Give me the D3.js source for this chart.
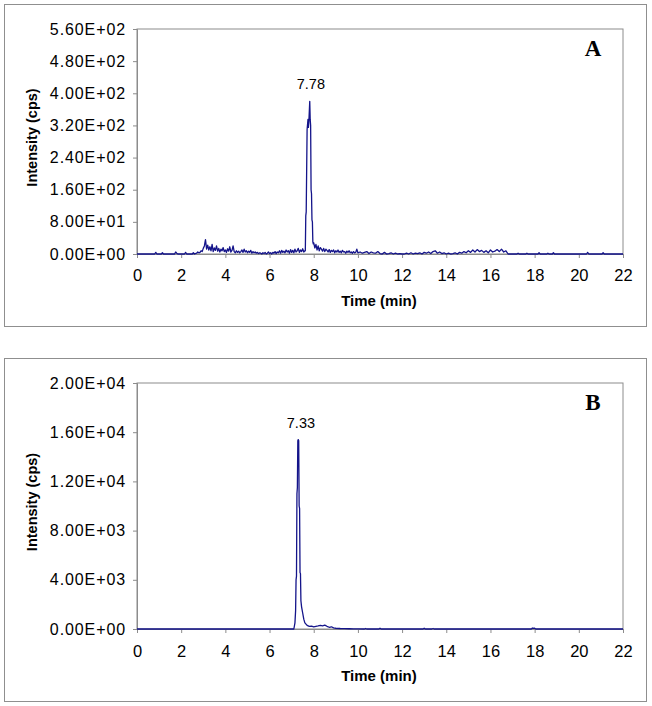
<!DOCTYPE html>
<html>
<head>
<meta charset="utf-8">
<script src="https://cdn.jsdelivr.net/npm/d3@7"></script>
<style>
  html, body { margin: 0; padding: 0; background: #fff; }
  svg { display: block; }
  .tick text { font-family: "Liberation Sans", Arial, sans-serif; }
</style>
</head>
<body>
<svg id="chart" width="652" height="706"></svg>
<script>
// ---------- DATA ----------
const xTicks = [0, 2, 4, 6, 8, 10, 12, 14, 16, 18, 20, 22];

const yTicksA = [0, 80, 160, 240, 320, 400, 480, 560];
const yTickLabelsA = ["0.00E+00", "8.00E+01", "1.60E+02", "2.40E+02", "3.20E+02", "4.00E+02", "4.80E+02", "5.60E+02"];

const yTicksB = [0, 4000, 8000, 12000, 16000, 20000];
const yTickLabelsB = ["0.00E+00", "4.00E+03", "8.00E+03", "1.20E+04", "1.60E+04", "2.00E+04"];

// Panel A chromatogram (time in min, intensity in cps)
const timeA = [
  0, 0.8, 0.85, 0.9, 1.1, 1.15, 1.2, 1.7, 1.75, 1.8, 1.85, 2.15, 2.2, 2.25, 2.5, 2.55, 2.6, 2.7, 2.75, 2.8,
  2.85, 2.9, 2.95, 3.0, 3.05, 3.1, 3.15, 3.2, 3.25, 3.3, 3.35, 3.4, 3.45, 3.5, 3.55, 3.6, 3.65, 3.7, 3.75, 3.8,
  3.85, 3.9, 3.95, 4.0, 4.05, 4.1, 4.15, 4.2, 4.25, 4.3, 4.35, 4.4, 4.45, 4.5, 4.55, 4.6, 4.65, 4.7, 4.75, 4.8,
  4.85, 4.9, 4.95, 5.0, 5.05, 5.1, 5.15, 5.2, 5.25, 5.3, 5.35, 5.4, 5.45, 5.5, 5.55, 5.6, 5.65, 5.7, 5.75, 5.8,
  5.85, 5.9, 5.95, 6.0, 6.05, 6.1, 6.15, 6.2, 6.25, 6.3, 6.35, 6.4, 6.45, 6.5, 6.55, 6.6, 6.65, 6.7, 6.75, 6.8,
  6.85, 6.9, 6.95, 7.0, 7.05, 7.1, 7.15, 7.2, 7.25, 7.3, 7.35, 7.4, 7.45, 7.5, 7.55, 7.6,
  7.62, 7.64, 7.66, 7.7, 7.74, 7.76, 7.78, 7.82, 7.84, 7.86, 7.88, 7.9, 7.92, 7.94, 7.96, 7.98, 8.0,
  8.05, 8.1, 8.15, 8.2, 8.25, 8.3, 8.35, 8.4, 8.45, 8.5, 8.55, 8.6, 8.65, 8.7, 8.75, 8.8, 8.85, 8.9, 8.95, 9.0,
  9.05, 9.1, 9.15, 9.2, 9.25, 9.3, 9.35, 9.4, 9.45, 9.5, 9.55, 9.6, 9.65, 9.7, 9.75, 9.8, 9.85, 9.9, 9.95, 10.0,
  10.1, 10.2, 10.3, 10.4, 10.5, 10.6, 10.7, 10.8, 10.9, 11.0, 11.1, 11.2, 11.3, 11.4, 11.5, 11.6, 11.7, 11.8, 11.9, 12.0,
  12.1, 12.2, 12.3, 12.4, 12.5, 12.6, 12.7, 12.8, 12.9, 13.0, 13.1, 13.2, 13.3, 13.4, 13.5, 13.6, 13.7, 13.8, 13.9, 14.0,
  14.1, 14.2, 14.3, 14.4, 14.5, 14.6, 14.7, 14.8, 14.9, 15.0, 15.1, 15.2, 15.3, 15.4, 15.5, 15.6, 15.7, 15.8, 15.9, 16.0,
  16.1, 16.2, 16.3, 16.4, 16.5, 16.6, 16.7, 16.8,
  17.2, 17.25, 17.3, 17.6, 17.65, 17.7, 18.15, 18.2, 18.25, 18.55, 18.6, 18.65, 18.8, 18.85, 18.9,
  20.35, 20.4, 20.45, 21.05, 21.1, 21.15, 22
];
const intensityA = [
  0, 0, 4, 0, 0, 3, 0, 0, 5, 2, 0, 0, 4, 0, 0, 3, 0, 2, 5, 3,
  4, 8, 6, 14, 20, 36, 12, 22, 10, 18, 8, 24, 6, 15, 9, 20, 7, 14, 5, 12,
  8, 16, 6, 10, 4, 13, 7, 18, 5, 9, 20, 6, 3, 8, 4, 7, 3, 6, 10, 4,
  12, 5, 8, 3, 7, 4, 9, 2, 6, 3, 5, 2, 4, 1, 3, 2, 0, 3, 1, 4,
  0, 2, 5, 1, 3, 0, 4, 2, 6, 1, 5, 3, 8, 2, 9, 4, 7, 3, 10, 5,
  8, 2, 11, 4, 9, 3, 12, 5, 8, 14, 4, 10, 6, 13, 5, 8,
  8, 95, 105, 310, 335, 315, 330, 380, 335, 320, 160, 150, 85, 80, 30, 25, 28,
  15, 24, 10, 20, 8, 16, 12, 7, 14, 6, 12, 9, 5, 11, 4, 9, 6, 10, 3, 8,
  5, 10, 4, 7, 3, 9, 5, 6, 2, 7, 4, 8, 3, 5, 2, 6, 3, 4, 12, 3,
  5, 2, 4, 6, 1, 5, 3, 2, 6, 1, 0, 4, 0, 1, 3, 0, 2, 0, 1, 0,
  0, 2, 0, 3, 0, 2, 1, 3, 0, 4, 2, 5, 1, 6, 8, 2, 5, 1, 3, 0,
  2, 0, 1, 3, 0, 4, 2, 6, 3, 8, 4, 10, 5, 11, 6, 9, 4, 8, 3, 10,
  5, 7, 11, 6, 12, 5, 8, 0,
  0, 2, 0, 0, 2, 0, 0, 3, 0, 0, 2, 0, 0, 3, 0,
  0, 4, 0, 0, 3, 0, 0
];

// Panel B chromatogram
const timeB = [
  0, 7.1, 7.15, 7.18, 7.2, 7.22, 7.24, 7.26, 7.28, 7.3, 7.32, 7.34, 7.36, 7.38, 7.4, 7.42, 7.45, 7.5, 7.55, 7.6,
  7.7, 7.8, 7.9, 8.0, 8.1, 8.2, 8.3, 8.4, 8.5, 8.6, 8.7, 8.8, 8.9, 9.0, 9.2, 9.4, 9.6, 9.8, 10.0,
  10.3, 10.35, 10.4, 10.95, 11.0, 11.05, 12.95, 13.0, 13.05, 13.35, 13.4, 13.45,
  17.85, 17.9, 17.95, 18.0, 18.05, 22
];
const intensityB = [
  0, 0, 500, 1500, 4000, 4300, 11000, 11500, 15300, 15400, 15300, 10000, 9800, 4600, 4500, 2300, 1800, 1300, 800, 500,
  300, 220, 240, 180, 220, 250, 300, 260, 320, 220, 140, 180, 90, 60, 40, 30, 20, 10, 5,
  0, 40, 0, 0, 70, 0, 0, 70, 0, 0, 40, 0,
  0, 80, 60, 70, 0, 0
];

const peakLabels = [
  { panel: "A", time: 7.78, text: "7.78", value: 380 },
  { panel: "B", time: 7.33, text: "7.33", value: 15400 }
];

// ---------- DRAWING ----------
const svg = d3.select("#chart");
const lineColor = "#14148a";
const gridGrey = "#8c8c8c";

function drawPanel(cfg) {
  const g = svg.append("g");
  // outer frame
  g.append("rect")
    .attr("x", cfg.box[0] + 0.5).attr("y", cfg.box[1] + 0.5)
    .attr("width", cfg.box[2]).attr("height", cfg.box[3])
    .attr("fill", "none").attr("stroke", "#8f8f8f").attr("stroke-width", 1);

  const x = d3.scaleLinear().domain([0, 22]).range([cfg.left, cfg.right]);
  const y = d3.scaleLinear().domain([0, cfg.yMax]).range([cfg.bottom, cfg.top]);

  // plot area border
  g.append("rect")
    .attr("x", cfg.left).attr("y", cfg.top)
    .attr("width", cfg.right - cfg.left).attr("height", cfg.bottom - cfg.top)
    .attr("fill", "none").attr("stroke", gridGrey).attr("stroke-width", 1);

  const xAxis = d3.axisBottom(x).tickValues(xTicks).tickSize(4).tickPadding(cfg.xPad).tickFormat(d => d);
  const gx = g.append("g").attr("transform", `translate(0,${cfg.bottom})`).call(xAxis);
  gx.select(".domain").attr("stroke", gridGrey);
  gx.selectAll(".tick line").attr("stroke", gridGrey);
  gx.selectAll(".tick text").attr("font-size", 16.5).attr("fill", "#000").attr("dy", "0.71em");

  const yAxis = d3.axisLeft(y).tickValues(cfg.yTicks).tickSize(4).tickPadding(7)
    .tickFormat((d, i) => cfg.yLabels[i]);
  const gy = g.append("g").attr("transform", `translate(${cfg.left},0)`).call(yAxis);
  gy.select(".domain").attr("stroke", gridGrey);
  gy.selectAll(".tick line").attr("stroke", gridGrey);
  gy.selectAll(".tick text").attr("font-size", 16).attr("letter-spacing", "0.9px").attr("fill", "#000");

  // data line
  const pts = cfg.times.map((t, i) => [t, cfg.values[i]]);
  g.append("path")
    .datum(pts)
    .attr("fill", "none")
    .attr("stroke", lineColor)
    .attr("stroke-width", 1.3)
    .attr("stroke-linejoin", "round")
    .attr("d", d3.line().x(d => x(d[0])).y(d => y(d[1])));

  // peak label
  peakLabels.filter(p => p.panel === cfg.name).forEach(p => {
    g.append("text")
      .attr("x", x(p.time) + 2).attr("y", y(p.value) - 12)
      .attr("text-anchor", "middle")
      .attr("font-family", "Liberation Sans, Arial, sans-serif")
      .attr("font-size", 14.5).attr("fill", "#000")
      .text(p.text);
  });

  // panel letter
  g.append("text")
    .attr("x", cfg.right - 30).attr("y", cfg.letterY)
    .attr("text-anchor", "middle")
    .attr("font-family", "Liberation Serif, 'Times New Roman', serif")
    .attr("font-weight", "bold").attr("font-size", 23).attr("fill", "#000")
    .text(cfg.name);

  // axis titles
  g.append("text")
    .attr("x", (cfg.left + cfg.right) / 2 - 1).attr("y", cfg.bottom + 52)
    .attr("text-anchor", "middle")
    .attr("font-family", "Liberation Sans, Arial, sans-serif")
    .attr("font-weight", "bold").attr("font-size", 15).attr("fill", "#000")
    .text("Time (min)");

  g.append("text")
    .attr("transform", `translate(${cfg.left - 100},${(cfg.top + cfg.bottom) / 2 - 4}) rotate(-90)`)
    .attr("text-anchor", "middle")
    .attr("font-family", "Liberation Sans, Arial, sans-serif")
    .attr("font-weight", "bold").attr("font-size", 14.5).attr("fill", "#000")
    .text("Intensity (cps)");
}

drawPanel({
  name: "A", box: [4, 4, 642, 322],
  left: 137, right: 623, top: 29, bottom: 254,
  yMax: 560, yTicks: yTicksA, yLabels: yTickLabelsA,
  times: timeA, values: intensityA, letterY: 56, xPad: 11
});

drawPanel({
  name: "B", box: [4, 358, 642, 343],
  left: 137, right: 623, top: 383, bottom: 629,
  yMax: 20000, yTicks: yTicksB, yLabels: yTickLabelsB,
  times: timeB, values: intensityB, letterY: 410, xPad: 12
});
</script>
</body>
</html>
